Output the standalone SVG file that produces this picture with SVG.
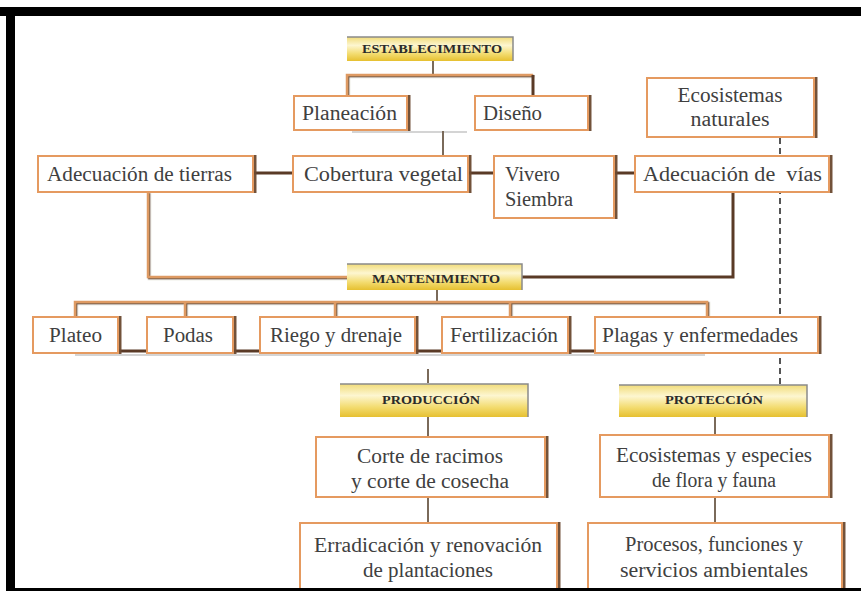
<svg xmlns="http://www.w3.org/2000/svg" width="861" height="591" viewBox="0 0 861 591">
<defs>
<linearGradient id="hg" x1="0" y1="0" x2="0" y2="1">
<stop offset="0" stop-color="#f1dc7a"/>
<stop offset="0.35" stop-color="#fdf6d0"/>
<stop offset="0.7" stop-color="#f3dc70"/>
<stop offset="1" stop-color="#e6c030"/>
</linearGradient>
<filter id="sh" x="-5%" y="-5%" width="110%" height="115%">
<feDropShadow dx="2.5" dy="0" stdDeviation="0.4" flood-color="#6b4a2e" flood-opacity="0.95"/>
</filter>
<filter id="lsh" x="-10%" y="-10%" width="120%" height="120%">
<feDropShadow dx="1.2" dy="1.2" stdDeviation="0.3" flood-color="#5e4330" flood-opacity="0.9"/>
</filter>
</defs>
<style>
.box{fill:#fff;stroke:#e59a60;stroke-width:2;filter:url(#sh)}
.hdr{fill:url(#hg)}
.hedge{fill:none;stroke:#8a8a8a;stroke-width:1.5}
.t{font-family:"Liberation Serif","Times New Roman",serif;font-size:20px;fill:#404040}
.c{text-anchor:middle}
.h{font-family:"Liberation Serif","Times New Roman",serif;font-size:12px;font-weight:bold;fill:#2a2a2a;text-anchor:middle}
.ln{fill:none;stroke:#de9a64;stroke-width:2.5;filter:url(#lsh)}
.dk{fill:none;stroke:#5a3a26;stroke-width:3}
.gy{fill:none;stroke:#7a6a5a;stroke-width:2}
.sd{fill:none;stroke:#d4d4d4;stroke-width:2}
.dash{fill:none;stroke:#555;stroke-width:2;stroke-dasharray:6 4}
</style>
<rect width="861" height="591" fill="#fff"/>

<g id="connectors">
<path class="sd" d="M352 132H467M75 355H705"/>
<path class="gy" d="M433 60V74"/>
<path class="ln" d="M347 96V75H533"/>
<path class="dk" d="M533 75V96"/>
<path class="ln" d="M407 129H475"/>
<path class="gy" d="M443 131V155"/>
<path class="dk" d="M253 173H293M468 173H494M614 173H635"/>
<path class="ln" d="M148 192V277H347"/>
<path class="ln" d="M382 192V264"/>
<path class="ln" d="M509 218V264"/>
<path class="dk" d="M733 192V277H522"/>
<path class="gy" d="M437 290V302"/>
<path class="ln" d="M75 317V302H707V317M185 302V317M335 302V317M510 302V317"/>
<path class="dk" d="M118 351H147M233 351H260M415 351H442M568 351H595"/>
<path class="gy" d="M428 369V383M428 417V437M428 497V523M715 417V435M715 497V523"/>
<path class="dash" d="M780 138V384"/>
</g>

<g id="establecimiento">
<rect class="hdr" x="347" y="37" width="166" height="24"/>
<path class="hedge" d="M347 37H513V61"/>
<text class="h" x="432" y="53" textLength="140" lengthAdjust="spacingAndGlyphs">ESTABLECIMIENTO</text>
</g>
<g id="planeacion">
<rect class="box" x="294" y="96" width="113" height="34"/>
<text class="t" x="302" y="120" textLength="95" lengthAdjust="spacingAndGlyphs">Planeación</text>
</g>
<g id="diseno">
<rect class="box" x="475" y="96" width="113" height="34"/>
<text class="t" x="483" y="120" textLength="59" lengthAdjust="spacingAndGlyphs">Diseño</text>
</g>
<g id="ecosistemas-naturales">
<rect class="box" x="647" y="78" width="167" height="59"/>
<text class="t c" x="730" y="102" textLength="105" lengthAdjust="spacingAndGlyphs">Ecosistemas</text>
<text class="t c" x="730" y="126" textLength="79" lengthAdjust="spacingAndGlyphs">naturales</text>
</g>
<g id="adecuacion-tierras">
<rect class="box" x="38" y="156" width="215" height="36"/>
<text class="t" x="47" y="181" textLength="185" lengthAdjust="spacingAndGlyphs">Adecuación de tierras</text>
</g>
<g id="cobertura">
<rect class="box" x="293" y="156" width="175" height="36"/>
<text class="t" x="304" y="181" textLength="159" lengthAdjust="spacingAndGlyphs">Cobertura vegetal</text>
</g>
<g id="vivero">
<rect class="box" x="494" y="156" width="120" height="62"/>
<text class="t" x="505" y="181" textLength="55" lengthAdjust="spacingAndGlyphs">Vivero</text>
<text class="t" x="505" y="206" textLength="68" lengthAdjust="spacingAndGlyphs">Siembra</text>
</g>
<g id="adecuacion-vias">
<rect class="box" x="635" y="156" width="194" height="36"/>
<text class="t" x="643" y="181" textLength="179" lengthAdjust="spacingAndGlyphs" xml:space="preserve">Adecuación de  vías</text>
</g>
<g id="mantenimiento">
<rect class="hdr" x="347" y="264" width="175" height="26"/>
<path class="hedge" d="M347 264H522V290"/>
<text class="h" x="436" y="283" textLength="128" lengthAdjust="spacingAndGlyphs">MANTENIMIENTO</text>
</g>
<g id="plateo">
<rect class="box" x="33" y="317" width="85" height="36"/>
<text class="t" x="49" y="342" textLength="53" lengthAdjust="spacingAndGlyphs">Plateo</text>
</g>
<g id="podas">
<rect class="box" x="147" y="317" width="86" height="36"/>
<text class="t" x="163" y="342" textLength="50" lengthAdjust="spacingAndGlyphs">Podas</text>
</g>
<g id="riego">
<rect class="box" x="260" y="317" width="155" height="36"/>
<text class="t" x="270" y="342" textLength="132" lengthAdjust="spacingAndGlyphs">Riego y drenaje</text>
</g>
<g id="fertilizacion">
<rect class="box" x="442" y="317" width="126" height="36"/>
<text class="t" x="450" y="342" textLength="108" lengthAdjust="spacingAndGlyphs">Fertilización</text>
</g>
<g id="plagas">
<rect class="box" x="595" y="317" width="223" height="36"/>
<text class="t" x="602" y="342" textLength="196" lengthAdjust="spacingAndGlyphs">Plagas y enfermedades</text>
</g>
<g id="produccion">
<rect class="hdr" x="340" y="384" width="188" height="33"/>
<path class="hedge" d="M340 384H528V417"/>
<text class="h" x="431" y="404" textLength="98" lengthAdjust="spacingAndGlyphs">PRODUCCIÓN</text>
</g>
<g id="corte">
<rect class="box" x="316" y="437" width="229" height="60"/>
<text class="t c" x="430" y="463" textLength="146" lengthAdjust="spacingAndGlyphs">Corte de racimos</text>
<text class="t c" x="430" y="488" textLength="158" lengthAdjust="spacingAndGlyphs">y corte de cosecha</text>
</g>
<g id="erradicacion">
<rect class="box" x="300" y="523" width="257" height="75"/>
<text class="t c" x="428" y="552" textLength="228" lengthAdjust="spacingAndGlyphs">Erradicación y renovación</text>
<text class="t c" x="428" y="577" textLength="130" lengthAdjust="spacingAndGlyphs">de plantaciones</text>
</g>
<g id="proteccion">
<rect class="hdr" x="619" y="385" width="188" height="32"/>
<path class="hedge" d="M619 385H807V417"/>
<text class="h" x="714" y="404" textLength="98" lengthAdjust="spacingAndGlyphs">PROTECCIÓN</text>
</g>
<g id="ecosistemas-especies">
<rect class="box" x="600" y="435" width="229" height="62"/>
<text class="t c" x="714" y="462" textLength="196" lengthAdjust="spacingAndGlyphs">Ecosistemas y especies</text>
<text class="t c" x="714" y="487" textLength="124" lengthAdjust="spacingAndGlyphs">de flora y fauna</text>
</g>
<g id="procesos">
<rect class="box" x="588" y="523" width="254" height="75"/>
<text class="t c" x="714" y="551" textLength="178" lengthAdjust="spacingAndGlyphs">Procesos, funciones y</text>
<text class="t c" x="714" y="577" textLength="188" lengthAdjust="spacingAndGlyphs">servicios ambientales</text>
</g>

<g id="frame">
<rect x="0" y="7" width="861" height="9" fill="#000"/>
<rect x="6" y="7" width="9" height="584" fill="#000"/>
<rect x="6" y="588" width="855" height="3" fill="#000"/>
</g>
</svg>
